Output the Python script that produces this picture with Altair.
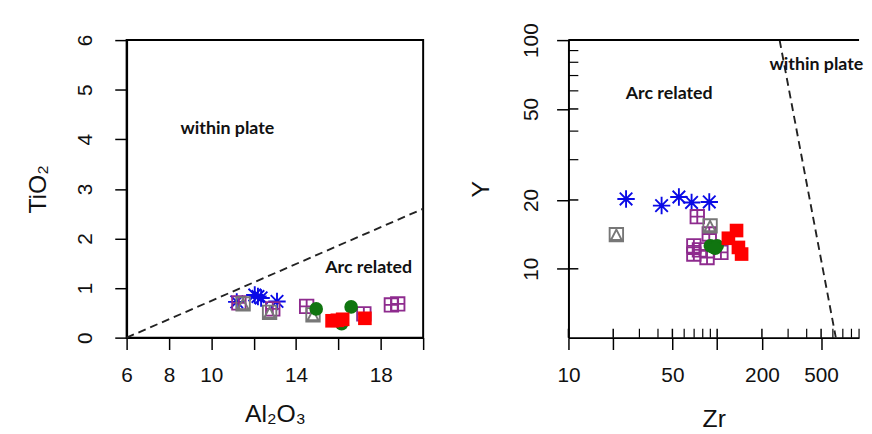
import altair as alt
import pandas as pd

# ---------------- data ----------------
groups = ["Group A", "Group B", "Group C", "Group D", "Group E"]

# Panel 1: Al2O3 vs TiO2
al2o3 = [11.2, 12.2, 12.05, 12.35, 13.1,
         11.3, 12.9, 14.5, 17.2, 18.5, 18.8,
         11.5, 12.75, 14.8,
         14.95, 16.15, 16.6,
         15.7, 16.2, 15.95, 17.25]
tio2 = [0.72, 0.83, 0.86, 0.80, 0.73,
        0.70, 0.58, 0.63, 0.48, 0.66, 0.68,
        0.68, 0.51, 0.46,
        0.58, 0.28, 0.62,
        0.34, 0.37, 0.35, 0.39]
grp1 = ["Group A"] * 5 + ["Group B"] * 6 + ["Group C"] * 3 + ["Group D"] * 3 + ["Group E"] * 4

# Panel 2: Zr vs Y
zr = [24.4, 42.3, 55.3, 67.3, 88.5,
      73.5, 88.5, 69.7, 69.7, 85.5, 106, 76,
      21.0, 89.6,
      90, 95, 100, 97,
      135, 119, 139, 146]
yv = [20.2, 18.9, 20.6, 19.5, 19.6,
      16.9, 14.2, 12.6, 11.6, 11.2, 11.8, 12.1,
      14.1, 15.4,
      12.6, 12.4, 12.6, 12.3,
      14.7, 13.6, 12.4, 11.6]
grp2 = ["Group A"] * 5 + ["Group B"] * 7 + ["Group C"] * 2 + ["Group D"] * 4 + ["Group E"] * 4

# discrimination boundaries
line1_x = [6, 20]
line1_y = [0, 2.6]
line2_x = [263, 628]
line2_y = [100, 5]

# axis ticks
x1_ticks = [6, 8, 10, 12, 14, 16, 18, 20]
x1_labels = [6, 8, 10, 14, 18]
y1_ticks = [0, 1, 2, 3, 4, 5, 6]
x2_major = [10, 20, 50, 100, 200, 500]
x2_labels = [10, 50, 200, 500]
x2_minor = [30, 40, 60, 70, 80, 90, 300, 400, 600, 700, 800, 900]
y2_major = [10, 20, 50, 100]
y2_minor = [30, 40, 60, 70, 80, 90]

# ---------------- styles ----------------
ASTER = "M-1,0L1,0M0,-1L0,1M-0.72,-0.72L0.72,0.72M-0.72,0.72L0.72,-0.72"
GRIDSQ = "M-1,-1L1,-1L1,1L-1,1Z M0,-1L0,1 M-1,0L1,0"
TRISQ = "M-1,-1L1,-1L1,1L-1,1Z M-0.8,0.8L0,-0.75L0.8,0.8Z"

style = {
    "Group A": dict(shape=ASTER, filled=False, stroke="#0a0ae6", strokeWidth=1.9, size=310),
    "Group B": dict(shape=GRIDSQ, filled=False, stroke="#8e2b8e", strokeWidth=1.9, size=185),
    "Group C": dict(shape=TRISQ, filled=False, stroke="#777777", strokeWidth=1.9, size=185),
    "Group D": dict(shape="circle", filled=True, color="#107510", size=190),
    "Group E": dict(shape="square", filled=True, color="#ff0000", size=190),
}

FONT = "Liberation Sans"
W1, H = 300, 301
W2 = 294

df1 = pd.DataFrame({"Al2O3": al2o3, "TiO2": tio2, "group": grp1})
df2 = pd.DataFrame({"Zr": zr, "Y": yv, "group": grp2})

xs1 = alt.Scale(domain=[6, 20], nice=False, zero=False)
ys1 = alt.Scale(domain=[0, 6], nice=False, zero=False)
xs2 = alt.Scale(type="log", domain=[10, 900], nice=False)
ys2 = alt.Scale(type="log", domain=[5, 100], nice=False)

ax_x1 = alt.Axis(
    title="Al₂O₃", values=x1_ticks,
    labelExpr="indexof(" + str(x1_labels) + ", datum.value) >= 0 ? datum.label : ''",
    labelOverlap=False, labelFlush=False, tickSize=12, labelPadding=26,
    labelBaseline="middle", titleY=77, titleBaseline="middle")
ax_y1 = alt.Axis(
    title="TiO₂", values=y1_ticks, labelAngle=-90, labelAlign="center",
    labelBaseline="middle", labelPadding=30, labelOverlap=False, labelFlush=False,
    tickSize=12, titleX=-90, titleBaseline="middle")
ax_x2 = alt.Axis(
    title="Zr", values=x2_major, format="d",
    labelExpr="indexof(" + str(x2_labels) + ", datum.value) >= 0 ? datum.label : ''",
    labelOverlap=False, labelFlush=False, tickSize=12, labelPadding=26,
    labelBaseline="middle", titleY=82, titleBaseline="middle")
ax_y2 = alt.Axis(
    title="Y", values=y2_major, format="d", labelAngle=-90, labelAlign="center",
    labelBaseline="middle", labelPadding=25, labelOverlap=False, labelFlush=False,
    tickSize=12, titleX=-89, titleBaseline="middle")


def point_layers(df, xf, yf, xs, ys, ax, ay):
    out = []
    for g in groups:
        sub = df[df["group"] == g]
        st = dict(style[g])
        out.append(
            alt.Chart(sub).mark_point(opacity=1, **st).encode(
                x=alt.X(f"{xf}:Q", scale=xs, axis=ax),
                y=alt.Y(f"{yf}:Q", scale=ys, axis=ay),
            )
        )
    return out


# ---------------- left panel ----------------
line1 = alt.Chart(pd.DataFrame({"x": line1_x, "y": line1_y})).mark_line(
    color="#222222", strokeDash=[8, 5], strokeWidth=1.9
).encode(
    x=alt.X("x:Q", scale=xs1, axis=ax_x1),
    y=alt.Y("y:Q", scale=ys1, axis=ax_y1),
)

txt_font = dict(font="Lato", fontWeight="bold", fontSize=18, color="#111111")
t1a = alt.Chart().mark_text(**txt_font).encode(
    x=alt.datum(10.76, scale=xs1, axis=ax_x1), y=alt.datum(4.2, scale=ys1, axis=ax_y1),
    text=alt.value("within plate"))
t1b = alt.Chart().mark_text(**txt_font).encode(
    x=alt.datum(17.43, scale=xs1, axis=ax_x1), y=alt.datum(1.4, scale=ys1, axis=ax_y1),
    text=alt.value("Arc related"))

left = alt.layer(line1, t1a, t1b, *point_layers(df1, "Al2O3", "TiO2", xs1, ys1, ax_x1, ax_y1)).properties(
    width=W1, height=H,
    view=alt.ViewBackground(stroke="black", strokeWidth=2),
)

# ---------------- right panel ----------------
line2 = alt.Chart(pd.DataFrame({"x": line2_x, "y": line2_y})).mark_line(
    color="#222222", strokeDash=[8, 5], strokeWidth=1.9, clip=True
).encode(
    x=alt.X("x:Q", scale=xs2, axis=ax_x2),
    y=alt.Y("y:Q", scale=ys2, axis=ax_y2),
)

tickx_major = alt.Chart(pd.DataFrame({"t": x2_major})).mark_rule(color="black", strokeWidth=1.5).encode(
    x=alt.X("t:Q", scale=xs2, axis=ax_x2), y=alt.value(H), y2=alt.value(H - 9))
tickx_minor = alt.Chart(pd.DataFrame({"t": x2_minor})).mark_rule(color="black", strokeWidth=1.2).encode(
    x=alt.X("t:Q", scale=xs2, axis=ax_x2), y=alt.value(H), y2=alt.value(H - 9))
ticky_major = alt.Chart(pd.DataFrame({"t": y2_major})).mark_rule(color="black", strokeWidth=1.5).encode(
    y=alt.Y("t:Q", scale=ys2, axis=ax_y2), x=alt.value(0), x2=alt.value(10))
ticky_minor = alt.Chart(pd.DataFrame({"t": y2_minor})).mark_rule(color="black", strokeWidth=1.2).encode(
    y=alt.Y("t:Q", scale=ys2, axis=ax_y2), x=alt.value(0), x2=alt.value(10))
top_border = alt.Chart(pd.DataFrame({"t": [0]})).mark_rule(color="black", strokeWidth=2).encode(
    x=alt.value(0), x2=alt.value(W2), y=alt.value(0))

t2a = alt.Chart().mark_text(**txt_font).encode(
    x=alt.datum(47.6, scale=xs2, axis=ax_x2), y=alt.datum(58, scale=ys2, axis=ax_y2),
    text=alt.value("Arc related"))
t2b = alt.Chart().mark_text(**txt_font).encode(
    x=alt.datum(465, scale=xs2, axis=ax_x2), y=alt.datum(78, scale=ys2, axis=ax_y2),
    text=alt.value("within plate"))

right = alt.layer(line2, tickx_major, tickx_minor, ticky_major, ticky_minor, top_border,
                  t2a, t2b, *point_layers(df2, "Zr", "Y", xs2, ys2, ax_x2, ax_y2)).properties(
    width=W2, height=H,
    view=alt.ViewBackground(stroke=None),
)

chart = alt.hconcat(left, right, spacing=147, bounds="flush").properties(
    padding={"left": 17, "top": 12, "right": 0, "bottom": 0},
    background="white",
).configure_axis(
    grid=False, domainColor="black", domainWidth=2, tickColor="black", tickWidth=1.5,
    labelFont=FONT, labelFontSize=21, labelColor="#111111",
    titleFont=FONT, titleFontSize=25, titleFontWeight="normal", titleColor="#111111",
)

chart.save("out.html", embed_options={"renderer": "svg", "actions": False})
